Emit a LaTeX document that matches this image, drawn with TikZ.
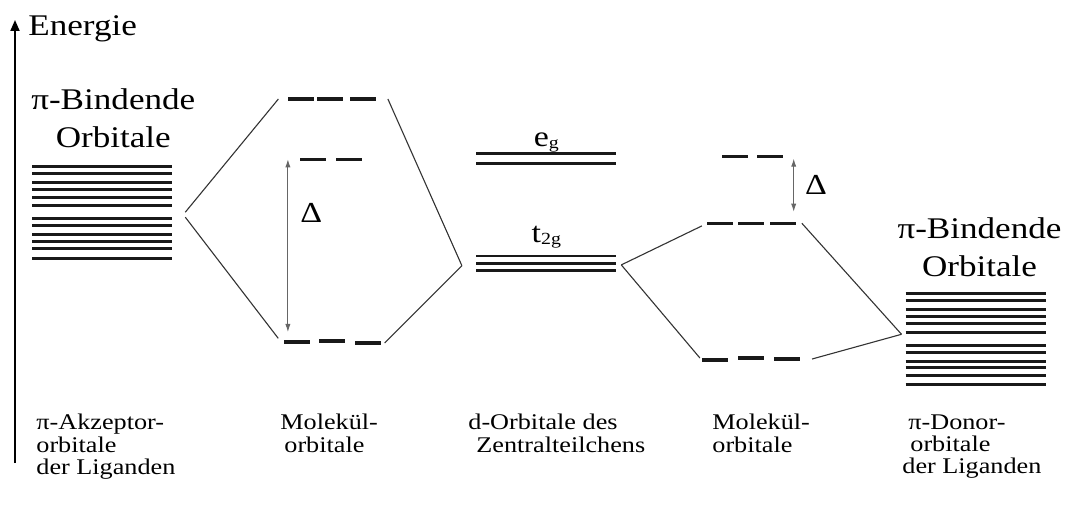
\documentclass[tikz,border=0pt]{standalone}
\usepackage{fontspec}
\setmainfont{Liberation Serif}[FakeStretch=1.17]
\usetikzlibrary{arrows.meta, positioning, calc}

% small lowered index for the term symbols
\newcommand{\lowidx}[1]{\raisebox{-1pt}{\fontsize{8.5}{8.5}\selectfont #1}}

\begin{document}
\begin{tikzpicture}[
  x=0.5pt, y=-0.5pt,
  orb/.style={fill=black!90, minimum width=13pt, minimum height=1.7pt, inner sep=0pt},
  band/.style={minimum width=69.6pt, inner sep=0pt},
  lvl/.style={line width=1.5pt, black!90},
  conn/.style={line width=0.55pt, black!80},
  gap/.style={{Latex[length=4pt,width=2.6pt]}-{Latex[length=4pt,width=2.6pt]}, line width=0.45pt, black!60},
  title/.style={align=center, inner sep=0pt, font=\fontsize{15}{19}\selectfont},
  caption/.style={align=left, anchor=north west, inner sep=0pt, font=\fontsize{11.2}{11.2}\selectfont},
  sym/.style={inner sep=0pt, text=black, font=\fontsize{14.5}{17}\selectfont}
]

\useasboundingbox (0,0) rectangle (1073,519);

% Energy axis
\coordinate (e0) at (15,463);
\coordinate (e1) at (15,20);
\draw[line width=1pt, -{Triangle[length=5.5pt,width=4.5pt]}] (e0) -- (e1);
\node[anchor=base west, inner sep=0pt, font=\fontsize{15}{18}\selectfont] (energie) at (28,36) {Energie};

% Ligand orbitals (bands of 12 lines)
\node[band, minimum height=45.5pt] (ligL) at (102.3,212.2) {};
\node[band, minimum height=44.9pt] (ligR) at (975.5,338.9) {};
\foreach \s in {ligL, ligR}
  \foreach \f in {0,0.08,0.175,0.255,0.335,0.43,0.57,0.645,0.745,0.82,0.9,1}
    \draw[lvl] ($(\s.north west)!\f!(\s.south west)$) -- ($(\s.north east)!\f!(\s.south east)$);

\node[title, above=9.3pt of ligL, xshift=5.5pt] (ligLtitle) {π-Bindende\\Orbitale};
\node[title, above=8pt of ligR, xshift=2pt] (ligRtitle) {π-Bindende\\Orbitale};

% d orbitals of the metal
\node[band, minimum height=4.2pt] (eg) at (546.3,158.5) {};
\node[band, minimum height=6.65pt] (t2g) at (546.3,263.3) {};
\draw[lvl] (eg.north west) -- (eg.north east);
\draw[lvl] (eg.south west) -- (eg.south east);
\draw[lvl, line width=1pt] (t2g.north west) -- (t2g.north east);
\draw[lvl] (t2g.west) -- (t2g.east);
\draw[lvl] (t2g.south west) -- (t2g.south east);
\node[sym, above=0.6pt of eg] (eglab) {e\lowidx{g}};
\node[sym, above=4pt of t2g] (t2glab) {t\lowidx{2g}};

% MO levels, acceptor side
\foreach \n/\x in {a/300.8, b/330.2, c/362.5}
  \node[orb] (mlT\n) at (\x,99) {};
\foreach \n/\x in {a/313.3, b/348.7}
  \node[orb] (mlM\n) at (\x,159.3) {};
\foreach \n/\x/\y in {a/296.7/342, b/332.3/341, c/368.3/343}
  \node[orb] (mlB\n) at (\x,\y) {};

% MO levels, donor side
\foreach \n/\x in {a/734.5, b/770.3}
  \node[orb] (mrT\n) at (\x,156.7) {};
\foreach \n/\x in {a/720.3, b/751.3, c/782.5}
  \node[orb] (mrM\n) at (\x,223.3) {};
\foreach \n/\x/\y in {a/715.3/360, b/750.8/358, c/786.7/359}
  \node[orb] (mrB\n) at (\x,\y) {};

% Correlation lines
\coordinate (ligLr) at ([xshift=6.5pt]ligL.east);
\coordinate (ligRl) at ([xshift=-2pt, yshift=2.3pt]ligR.west);
\coordinate (t2gl) at ([xshift=-7.2pt, yshift=-1.2pt]t2g.west);
\coordinate (t2gr) at ([xshift=2.5pt, yshift=-0.8pt]t2g.east);

\draw[conn] (ligLr) -- ([xshift=-4.5pt]mlTa.west);
\draw[conn] ([yshift=-2.5pt]ligLr) -- ([xshift=-2.5pt, yshift=1.8pt]mlBa.west);
\draw[conn] ([xshift=6pt]mlTc.east) -- (t2gl);
\draw[conn] (t2gl) -- ([xshift=1.5pt]mlBc.east);
\draw[conn] (t2gr) -- ([xshift=-2.5pt, yshift=-1.3pt]mrMa.west);
\draw[conn] (t2gr) -- ([xshift=-1pt, yshift=1pt]mrBa.west);
\draw[conn] ([xshift=3pt]mrMc.east) -- (ligRl);
\draw[conn] (ligRl) -- ([xshift=6pt]mrBc.east);

% Ligand field splitting
\draw[gap] ($(mlMa.west)+(-12,0)$) --
  node[sym, pos=0.31, right=6pt] (dl) {Δ}
  ($(mlMa.west |- mlBa.west)+(-12,-10)$);
\draw[gap] ($(mrTb.east)+(10,2)$) --
  node[sym, right=5.5pt] (dr) {Δ}
  ($(mrTb.east |- mrMc.west)+(10,-11.6)$);

% Column captions
\node[caption] (capA) at (36,414) {π-Akzeptor-\\orbitale\\der Liganden};
\node[caption] (capB) at (280,414) {Molekül-\\\hspace*{2pt}orbitale};
\node[caption] (capC) at (468,414) {d-Orbitale des\\\hspace*{4pt}Zentralteilchens};
\node[caption] (capD) at (712,414) {Molekül-\\orbitale};
\node[caption] (capE) at (902,414) {\hspace*{3pt}π-Donor-\\\hspace*{4pt}orbitale\\der Liganden};

\end{tikzpicture}
\end{document}
